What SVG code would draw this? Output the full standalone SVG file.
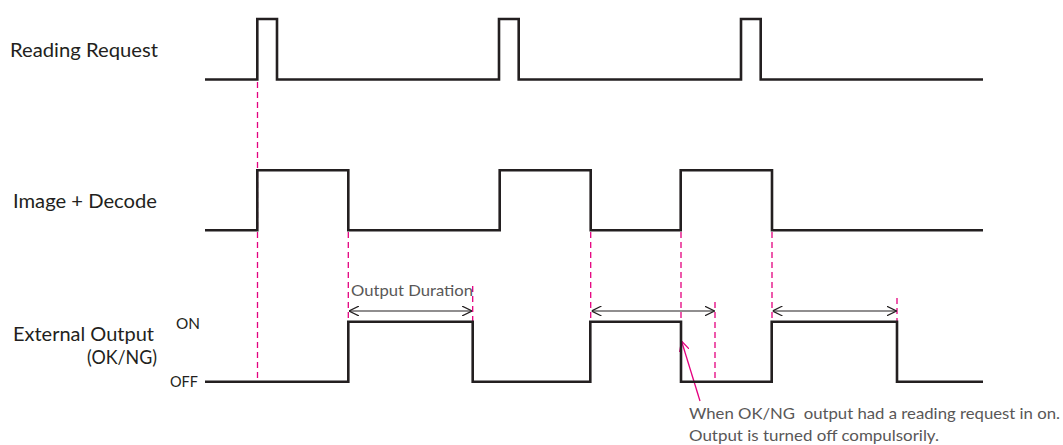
<svg xmlns="http://www.w3.org/2000/svg" width="1063" height="445" viewBox="0 0 1063 445">
<style>
.sig{fill:none;stroke:#231f20;stroke-width:2.6;stroke-linejoin:miter}
.dash{fill:none;stroke:#e4007f;stroke-width:1.3;stroke-dasharray:6 4}
.dim{fill:none;stroke:#231f20;stroke-width:1.2}
.lbl{font-family:Lato,"Noto Sans",sans-serif;font-size:18.5px;fill:#231f20}
.sm{font-family:Lato,"Noto Sans",sans-serif;font-size:16px;fill:#595757}
.lv{font-family:Lato,"Noto Sans",sans-serif;font-size:15.5px;fill:#231f20}
</style>
<defs>
<marker id="ah" viewBox="0 0 10 10" refX="10" refY="5" markerWidth="10" markerHeight="10" markerUnits="userSpaceOnUse" orient="auto-start-reverse">
<path d="M0,0 L10,5 L0,10" fill="none" stroke="#231f20" stroke-width="1.2"/>
</marker>
<marker id="ahp" viewBox="0 0 10 10" refX="10" refY="5" markerWidth="10" markerHeight="10" markerUnits="userSpaceOnUse" orient="auto">
<path d="M0,0 L10,5 L0,10" fill="none" stroke="#e4007f" stroke-width="1.3"/>
</marker>
</defs>
<rect width="1063" height="445" fill="#ffffff"/>

<g id="labels">
<text class="lbl" x="10" y="56.5" textLength="148" lengthAdjust="spacingAndGlyphs">Reading Request</text>
<text class="lbl" x="13" y="207.5" textLength="144" lengthAdjust="spacingAndGlyphs">Image + Decode</text>
<text class="lbl" x="13" y="340.5" textLength="141" lengthAdjust="spacingAndGlyphs">External Output</text>
<text class="lbl" x="87" y="364" textLength="70" lengthAdjust="spacingAndGlyphs">(OK/NG)</text>
<text class="lv" x="176" y="328.5" textLength="24" lengthAdjust="spacingAndGlyphs">ON</text>
<text class="lv" x="170" y="387" textLength="28" lengthAdjust="spacingAndGlyphs">OFF</text>
</g>

<g id="connectors">
<line class="dash" x1="257.5" y1="82" x2="257.5" y2="381"/>
<line class="dash" x1="348.3" y1="232" x2="348.3" y2="321"/>
<line class="dash" x1="472.7" y1="286" x2="472.7" y2="321"/>
<line class="dash" x1="590.7" y1="232" x2="590.7" y2="321"/>
<line class="dash" x1="681" y1="232" x2="681" y2="321"/>
<line class="dash" x1="715" y1="302" x2="715" y2="381"/>
<line class="dash" x1="772" y1="232" x2="772" y2="321"/>
<line class="dash" x1="897" y1="298" x2="897" y2="321"/>
<line class="dim" x1="349" y1="311" x2="472" y2="311" marker-start="url(#ah)" marker-end="url(#ah)"/>
<line class="dim" x1="591.5" y1="311" x2="714.5" y2="311" marker-start="url(#ah)" marker-end="url(#ah)"/>
<line class="dim" x1="772.5" y1="311" x2="896.5" y2="311" marker-start="url(#ah)" marker-end="url(#ah)"/>
<line x1="700" y1="401" x2="681.5" y2="341" stroke="#e4007f" stroke-width="1.3" marker-end="url(#ahp)"/>
</g>

<g id="reading-request">
<polyline class="sig" points="205,79.5 257.3,79.5 257.3,19 277,19 277,79.5 499,79.5 499,19 518.7,19 518.7,79.5 741,79.5 741,19 760.7,19 760.7,79.5 983,79.5"/>
</g>

<g id="image-decode">
<polyline class="sig" points="205,230.3 257.3,230.3 257.3,170.3 348.3,170.3 348.3,230.3 499.7,230.3 499.7,170.3 590.7,170.3 590.7,230.3 680.7,230.3 680.7,170.3 772,170.3 772,230.3 983,230.3"/>
</g>

<g id="external-output">
<polyline class="sig" points="205,381.7 348.3,381.7 348.3,321.7 472.7,321.7 472.7,381.7 590.3,381.7 590.3,321.7 681,321.7 681,381.7 771.7,381.7 771.7,321.7 897,321.7 897,381.7 983,381.7"/>
</g>

<g id="annotations">
<text class="sm" x="351" y="296" textLength="122" lengthAdjust="spacingAndGlyphs">Output Duration</text>
<text class="sm" x="689" y="419" textLength="371" lengthAdjust="spacingAndGlyphs" xml:space="preserve">When OK/NG  output had a reading request in on.</text>
<text class="sm" x="689" y="441" textLength="250" lengthAdjust="spacingAndGlyphs">Output is turned off compulsorily.</text>
</g>
</svg>
